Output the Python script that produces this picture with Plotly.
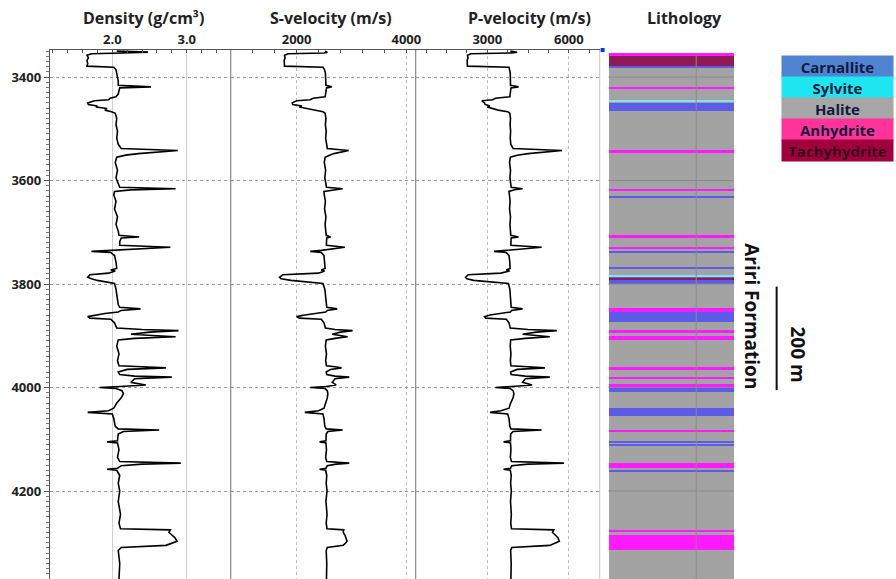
import plotly.graph_objects as go

# ---- well-log samples (depth in m) ----
depth_m = [
    3350, 3352, 3353.5, 3355, 3358, 3363, 3368, 3374, 3379, 3381,
    3386, 3392, 3400, 3408, 3416, 3419, 3421, 3426, 3433, 3438,
    3441, 3444, 3446, 3450, 3453, 3456, 3458, 3461, 3464, 3467,
    3470, 3480, 3492, 3505, 3518, 3530, 3538, 3542, 3545, 3548,
    3551, 3555, 3565, 3580, 3595, 3608, 3613, 3616, 3618, 3621,
    3628, 3640, 3655, 3670, 3685, 3698, 3706, 3709, 3711, 3718,
    3725, 3729, 3732, 3735, 3737, 3739, 3745, 3758, 3770, 3773,
    3775, 3779, 3782, 3787, 3790, 3793, 3796, 3799, 3810, 3825,
    3840, 3845, 3848, 3851, 3854, 3857, 3860, 3863, 3866, 3868,
    3875, 3885, 3888, 3890, 3893, 3897, 3900, 3902, 3905, 3908,
    3920, 3935, 3948, 3958, 3960, 3962, 3965, 3970, 3975, 3978,
    3980, 3983, 3990, 3995, 3998, 4000, 4002, 4006, 4012, 4020,
    4030, 4040, 4045, 4048, 4051, 4060, 4075, 4080, 4082, 4085,
    4090, 4103, 4105, 4107, 4120, 4135, 4143, 4146, 4148, 4151,
    4156, 4158, 4160, 4170, 4185, 4200, 4220, 4245, 4262, 4273,
    4275, 4280, 4285, 4290, 4297, 4301, 4305, 4309, 4315, 4340,
    4370,
]

density = [
    2.06, 2.48, 2.14, 1.72, 1.66, 1.68, 1.66, 1.67, 1.66, 2.02,
    2.05, 2.06, 2.07, 2.08, 2.08, 2.52, 2.10, 2.09, 2.08, 2.05,
    1.97, 1.95, 1.76, 1.67, 1.68, 1.80, 1.78, 1.93, 1.90, 1.99,
    2.04, 2.06, 2.05, 2.07, 2.06, 2.08, 2.12, 2.88, 2.60, 2.35,
    2.18, 2.06, 2.04, 2.07, 2.05, 2.08, 2.10, 2.85, 2.25, 2.03,
    2.02, 2.05, 2.03, 2.07, 2.05, 2.08, 2.09, 2.36, 2.12, 2.10,
    2.10, 2.78, 2.30, 2.00, 1.72, 1.98, 2.03, 2.05, 2.06, 1.98,
    2.04, 1.95, 1.70, 1.67, 1.72, 1.80, 1.90, 2.03, 2.05, 2.07,
    2.08, 2.10, 2.38, 2.12, 2.08, 1.90, 1.78, 1.67, 1.70, 1.98,
    2.03, 2.06, 2.40, 2.89, 2.50, 2.25, 2.60, 2.85, 2.30, 2.08,
    2.06, 2.09, 2.07, 2.09, 2.40, 2.72, 2.20, 2.08, 2.10, 2.30,
    2.80, 2.30, 2.25, 2.45, 2.10, 1.83, 2.05, 2.13, 2.15, 2.12,
    2.06, 2.02, 1.95, 1.67, 2.00, 2.02, 2.04, 2.08, 2.63, 2.15,
    2.08, 2.07, 1.93, 2.07, 2.09, 2.07, 2.10, 2.92, 2.40, 2.12,
    2.07, 1.93, 2.06, 2.10, 2.08, 2.10, 2.08, 2.11, 2.09, 2.11,
    2.78, 2.76, 2.80, 2.84, 2.87, 2.80, 2.72, 2.12, 2.08, 2.10,
    2.09,
]

s_velocity = [
    2520, 2560, 2500, 1850, 1780, 1790, 1775, 1785, 1780, 2480,
    2510, 2525, 2530, 2540, 2535, 2640, 2545, 2540, 2535, 2520,
    2300, 2250, 2000, 1920, 1930, 2100, 2050, 2200, 2350, 2480,
    2520, 2535, 2525, 2540, 2530, 2545, 2560, 2950, 2800, 2680,
    2600, 2520, 2505, 2530, 2515, 2540, 2545, 2840, 2650, 2500,
    2505, 2525, 2510, 2535, 2520, 2540, 2540, 2620, 2550, 2545,
    2545, 2880, 2700, 2450, 2250, 2450, 2500, 2515, 2520, 2450,
    2510, 2400, 1750, 1690, 1720, 1900, 2200, 2480, 2515, 2530,
    2540, 2550, 2740, 2560, 2530, 2300, 2150, 2000, 2050, 2450,
    2500, 2525, 2700, 3020, 2800, 2650, 2850, 2930, 2700, 2540,
    2525, 2545, 2530, 2545, 2700, 2820, 2620, 2540, 2550, 2700,
    2960, 2700, 2650, 2720, 2540, 2250, 2520, 2560, 2570, 2560,
    2530, 2500, 2400, 2150, 2480, 2500, 2515, 2540, 2840, 2570,
    2540, 2535, 2420, 2535, 2545, 2530, 2550, 2960, 2720, 2560,
    2535, 2420, 2530, 2550, 2540, 2555, 2535, 2555, 2540, 2555,
    2860, 2850, 2880, 2900, 2920, 2890, 2850, 2560, 2540, 2550,
    2545,
]

p_velocity = [
    3850, 4100, 3900, 2400, 2270, 2290, 2260, 2280, 2270, 3800,
    3830, 3845, 3850, 3860, 3855, 4150, 3870, 3860, 3850, 3830,
    3300, 3200, 2800, 2900, 2920, 3100, 3000, 3200, 3400, 3750,
    3830, 3855, 3840, 3860, 3845, 3865, 3950, 5750, 5000, 4500,
    4100, 3850, 3820, 3855, 3835, 3860, 3880, 4300, 4000, 3800,
    3810, 3840, 3820, 3855, 3835, 3860, 3865, 4150, 3880, 3870,
    3870, 5000, 4400, 3700, 3250, 3700, 3800, 3830, 3840, 3700,
    3820, 3500, 2300, 2200, 2250, 2500, 3100, 3780, 3830, 3850,
    3860, 3880, 4300, 3900, 3850, 3400, 3100, 2900, 2950, 3700,
    3800, 3845, 4500, 5560, 4800, 4300, 5000, 5300, 4400, 3860,
    3845, 3870, 3850, 3870, 4500, 5120, 4100, 3860, 3880, 4400,
    5300, 4400, 4300, 4650, 3900, 3300, 3850, 3950, 3980, 3950,
    3860, 3800, 3500, 3100, 3750, 3800, 3830, 3870, 5000, 3950,
    3860, 3855, 3600, 3855, 3870, 3850, 3890, 5820, 4500, 3900,
    3855, 3600, 3850, 3880, 3860, 3885, 3855, 3885, 3865, 3890,
    5450, 5400, 5500, 5600, 5650, 5500, 5300, 3900, 3860, 3880,
    3870,
]

assert len(depth_m) == len(density) == len(s_velocity) == len(p_velocity)

# ---- lithology column (interval tops / bases in m) ----
litho_top = [
    3357, 3355.5, 3359, 3378, 3419, 3444, 3450, 3541, 3616, 3631,
    3705, 3728, 3737, 3768, 3782, 3787, 3789, 3846, 3855, 3871,
    3889, 3900, 3960, 3979, 3993, 4001, 4040, 4082, 4104, 4110,
    4145, 4161, 4275, 4285,
]
litho_base = [
    4370, 3359, 3378, 3382, 3423, 3449, 3466, 3547, 3621, 3633,
    3711, 3733, 3739, 3770, 3787, 3799, 3791.5, 3855, 3869, 3873,
    3894, 3908, 3966, 3984, 4001, 4008, 4055, 4086, 4107, 4112,
    4156, 4164, 4280, 4314,
]
litho_kind = [
    "Halite", "Anhydrite", "Tachyhydrite", "Carnallite", "Anhydrite",
    "Sylvite", "Carnallite", "Anhydrite", "Anhydrite", "Carnallite",
    "Anhydrite", "Anhydrite", "Carnallite", "Carnallite", "Sylvite",
    "Carnallite", "Tachyhydrite", "Anhydrite", "Carnallite", "Carnallite",
    "Anhydrite", "Anhydrite", "Anhydrite", "Anhydrite", "Anhydrite",
    "Carnallite", "Carnallite", "Anhydrite", "Carnallite", "Carnallite",
    "Anhydrite", "Carnallite", "Anhydrite", "Anhydrite",
]

legend_names = ["Carnallite", "Sylvite", "Halite", "Anhydrite", "Tachyhydrite"]
legend_colors = ["#5183d3", "#1ee6f0", "#a6a6a6", "#ff3399", "#a0003c"]
column_colors = {
    "Halite": "#a3a3a3",
    "Carnallite": "#5c5ce8",
    "Sylvite": "#80e4ec",
    "Anhydrite": "#ff1aff",
    "Tachyhydrite": "#8e1b55",
}

# axis ranges and tick labels of the three log tracks
density_range = [1.16, 3.59]
density_ticks = [2.0, 3.0]
vs_range = [800, 4170]
vs_ticks = [2000, 4000]
vp_range = [366, 7134]
vp_ticks = [3000, 6000]
depth_range = [4370, 3347.8]
depth_ticks = [3400, 3600, 3800, 4000, 4200]

W, H = 896, 579
FONT = "Open Sans"


def px(x):
    return x / W


def py(y):
    return 1 - y / H


def bold(values, fmt):
    return [f"<b>{fmt.format(v)}</b>" for v in values]


fig = go.Figure()

line_style = dict(color="black", width=1.6)
fig.add_trace(go.Scatter(x=density, y=depth_m, mode="lines", line=line_style,
                         xaxis="x", yaxis="y", showlegend=False))
fig.add_trace(go.Scatter(x=s_velocity, y=depth_m, mode="lines", line=line_style,
                         xaxis="x2", yaxis="y", showlegend=False))
fig.add_trace(go.Scatter(x=p_velocity, y=depth_m, mode="lines", line=line_style,
                         xaxis="x3", yaxis="y", showlegend=False))

# lithology column as horizontal bars, drawn in legend order on top of halite
col_left, col_width = 0.051, 0.72
for kind in ["Halite", "Carnallite", "Sylvite", "Anhydrite", "Tachyhydrite"]:
    tops = [t for t, k in zip(litho_top, litho_kind) if k == kind]
    bases = [b for b, k in zip(litho_base, litho_kind) if k == kind]
    fig.add_trace(go.Bar(
        orientation="h",
        y=[(t + b) / 2 for t, b in zip(tops, bases)],
        width=[b - t for t, b in zip(tops, bases)],
        x=[col_width] * len(tops),
        base=col_left,
        marker=dict(color=column_colors[kind], line=dict(width=0)),
        xaxis="x4", yaxis="y3", showlegend=False, name=kind,
    ))

top_y = py(50)
tick_font = dict(family=FONT, size=13, color="#222")
common_x = dict(side="top", anchor="y", showline=True, linecolor="#555",
                linewidth=1, ticks="inside", ticklen=3, tickcolor="#555",
                tickfont=tick_font, zeroline=False, fixedrange=True)

fig.update_layout(
    width=W, height=H,
    margin=dict(l=0, r=0, t=0, b=0),
    paper_bgcolor="white", plot_bgcolor="white",
    barmode="overlay", bargap=0,
    font=dict(family=FONT),
    xaxis=dict(domain=[px(50), px(232)], range=density_range,
               tickvals=density_ticks, ticktext=bold(density_ticks, "{:.1f}"),
               showgrid=True, gridcolor="#cfcfcf", gridwidth=1,
               minor=dict(dtick=0.2, tick0=0, ticks="inside", ticklen=3,
                          tickcolor="#555", showgrid=False),
               **common_x),
    xaxis2=dict(domain=[px(232), px(418)], range=vs_range,
                tickvals=vs_ticks, ticktext=bold(vs_ticks, "{}"),
                showgrid=True, gridcolor="#bdbdbd", griddash="dot",
                minor=dict(dtick=400, tick0=0, ticks="inside", ticklen=3,
                           tickcolor="#555", showgrid=False),
                **common_x),
    xaxis3=dict(domain=[px(418), px(603)], range=vp_range,
                tickvals=vp_ticks, ticktext=bold(vp_ticks, "{}"),
                showgrid=True, gridcolor="#bdbdbd", griddash="dot",
                minor=dict(dtick=750, tick0=0, ticks="inside", ticklen=3,
                           tickcolor="#555", showgrid=False),
                **common_x),
    xaxis4=dict(domain=[px(603), px(778)], range=[0, 1], anchor="y3",
                showticklabels=False, showgrid=False, zeroline=False,
                showline=False, fixedrange=True),
    yaxis=dict(domain=[0, top_y], range=depth_range, tickvals=depth_ticks,
               ticktext=bold(depth_ticks, "{}"),
               showline=True, linecolor="#555", linewidth=1,
               ticks="outside", ticklen=5, tickcolor="#555",
               tickfont=dict(family=FONT, size=13, color="#222"),
               showgrid=True, gridcolor="#9a9a9a", griddash="dot",
               minor=dict(dtick=10, ticks="outside", ticklen=3,
                          tickcolor="#777", showgrid=False),
               zeroline=False, fixedrange=True),
    yaxis2=dict(domain=[0, top_y], range=depth_range, overlaying="y",
                anchor="free", position=px(778), side="left",
                tickvals=depth_ticks, showticklabels=False,
                ticks="outside", ticklen=3, tickcolor="#bbb",
                showline=True, linecolor="#d0d0d0", showgrid=False,
                zeroline=False, fixedrange=True),
    yaxis3=dict(domain=[0, top_y], range=depth_range, anchor="x4",
                visible=False, showgrid=False, zeroline=False,
                fixedrange=True),
)

shapes = []
# track separators
for xb, col in [(232, "#888"), (418, "#888"), (603, "#cfcfcf")]:
    shapes.append(dict(type="line", xref="paper", yref="paper",
                       x0=px(xb), x1=px(xb), y0=0, y1=top_y,
                       line=dict(color=col, width=1.2)))
# grid lines drawn over the lithology column
for d in depth_ticks:
    shapes.append(dict(type="line", xref="x4", yref="y3", x0=col_left,
                       x1=col_left + col_width, y0=d, y1=d, layer="above",
                       line=dict(color="#8a8a8a", width=1)))
shapes.append(dict(type="line", xref="x4", yref="y3", x0=0.555, x1=0.555,
                   y0=3357, y1=4370, layer="above",
                   line=dict(color="#8a8a8a", width=1)))
# 200 m scale bar
shapes.append(dict(type="line", xref="paper", yref="y", x0=px(781), x1=px(781),
                   y0=3805, y1=4005, line=dict(color="#111", width=2)))
# small marker at the top of the lithology track
shapes.append(dict(type="rect", xref="paper", yref="paper",
                   x0=px(604), x1=px(608), y0=py(52), y1=py(48),
                   fillcolor="#1030ff", line=dict(width=0)))
fig.update_layout(shapes=shapes)

annotations = []
title_font = dict(family=FONT, size=16, color="#222")
for text, xc in [("<b>Density (g/cm³)</b>", 144), ("<b>S-velocity (m/s)</b>", 333),
                 ("<b>P-velocity (m/s)</b>", 532), ("<b>Lithology</b>", 688)]:
    annotations.append(dict(text=text, x=px(xc), y=py(18), xref="paper",
                            yref="paper", showarrow=False, font=title_font,
                            xanchor="center", yanchor="middle"))

# legend boxes
box_tops = [55, 76, 97, 118, 139.5]
for name, color, yt in zip(legend_names, legend_colors, box_tops):
    annotations.append(dict(
        text=f"<b>{name}</b>", x=px(785), y=py(yt), xref="paper", yref="paper",
        xanchor="left", yanchor="top", showarrow=False,
        width=111, height=21, bgcolor=color, borderpad=0, align="center",
        font=dict(family=FONT, size=15,
                  color="#3a0018" if name == "Tachyhydrite" else "#14183f"),
    ))

annotations.append(dict(text="<b>Ariri Formation</b>", x=px(756), y=py(316),
                        xref="paper", yref="paper", showarrow=False,
                        xanchor="center", yanchor="middle",
                        textangle=90, font=dict(family=FONT, size=19, color="#111")))
annotations.append(dict(text="<b>200 m</b>", x=px(802), y=py(354),
                        xref="paper", yref="paper", showarrow=False,
                        xanchor="center", yanchor="middle",
                        textangle=90, font=dict(family=FONT, size=19, color="#111")))
fig.update_layout(annotations=annotations)

fig.write_html("out.html")
